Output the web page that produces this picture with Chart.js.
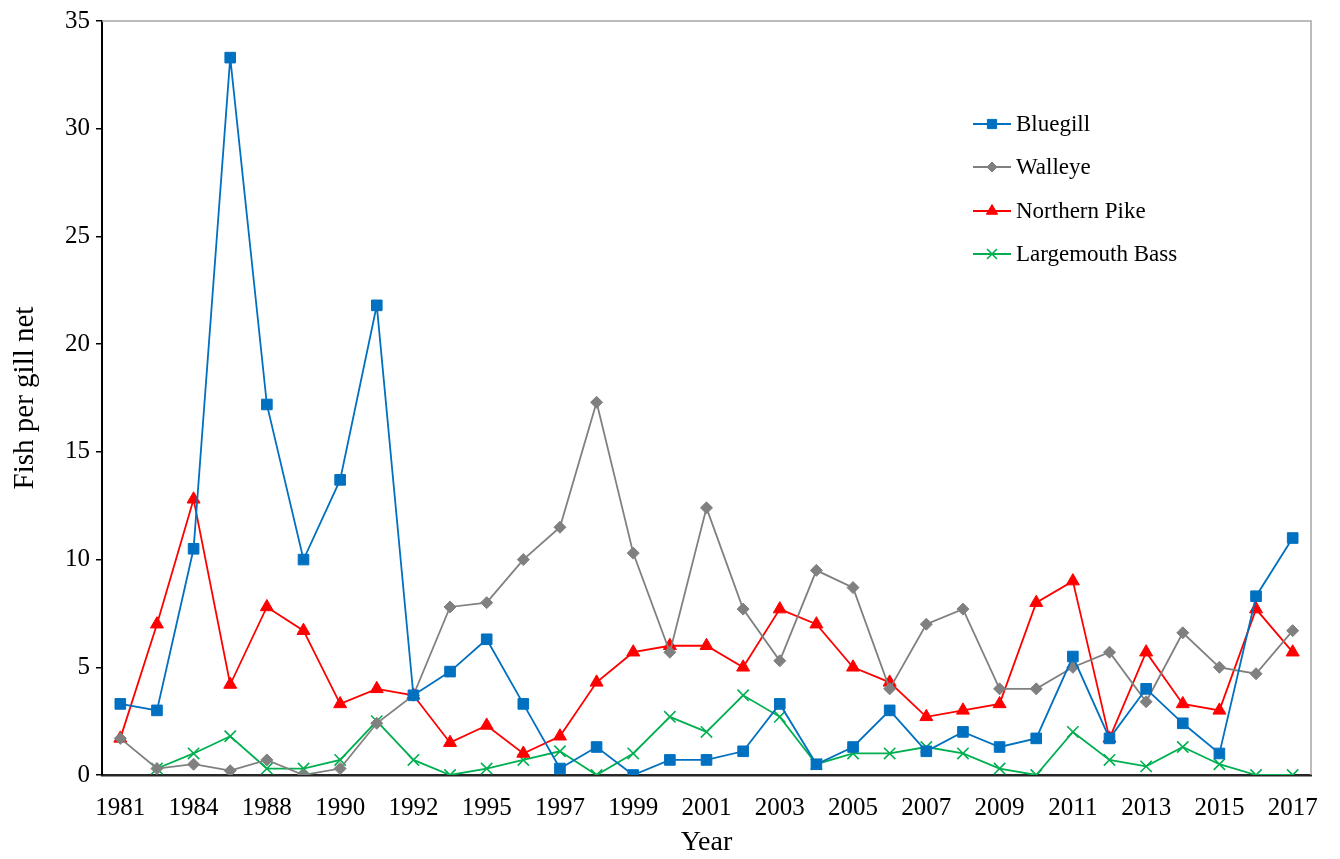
<!DOCTYPE html>
<html>
<head>
<meta charset="utf-8">
<title>Fish per gill net</title>
<script src="https://cdn.jsdelivr.net/npm/chart.js"></script>
<style>
  html, body { margin: 0; padding: 0; background: #fff; }
  #wrap { width: 1340px; height: 859px; position: relative; }
</style>
</head>
<body>
<div id="wrap"><canvas id="fishChart"></canvas></div>
<script>
const years = [
    1981, 1982, 1984, 1986, 1988, 1989, 1990, 1991, 1992, 1993, 1995,
    1996, 1997, 1998, 1999, 2000, 2001, 2002, 2003, 2004, 2005, 2006,
    2007, 2008, 2009, 2010, 2011, 2012, 2013, 2014, 2015, 2016, 2017,
];

const bluegill = [
    3.3, 3.0, 10.5, 33.3, 17.2, 10.0, 13.7, 21.8, 3.7, 4.8, 6.3,
    3.3, 0.3, 1.3, 0.0, 0.7, 0.7, 1.1, 3.3, 0.5, 1.3, 3.0,
    1.1, 2.0, 1.3, 1.7, 5.5, 1.7, 4.0, 2.4, 1.0, 8.3, 11.0,
];

const walleye = [
    1.7, 0.3, 0.5, 0.2, 0.7, 0.0, 0.3, 2.4, 3.7, 7.8, 8.0,
    10.0, 11.5, 17.3, 10.3, 5.7, 12.4, 7.7, 5.3, 9.5, 8.7, 4.0,
    7.0, 7.7, 4.0, 4.0, 5.0, 5.7, 3.4, 6.6, 5.0, 4.7, 6.7,
];

const northernPike = [
    1.7, 7.0, 12.8, 4.2, 7.8, 6.7, 3.3, 4.0, 3.7, 1.5, 2.3,
    1.0, 1.8, 4.3, 5.7, 6.0, 6.0, 5.0, 7.7, 7.0, 5.0, 4.3,
    2.7, 3.0, 3.3, 8.0, 9.0, 1.7, 5.7, 3.3, 3.0, 7.7, 5.7,
];

const largemouthBass = [
    null, 0.3, 1.0, 1.8, 0.3, 0.3, 0.7, 2.5, 0.7, 0.0, 0.3,
    0.7, 1.1, 0.0, 1.0, 2.7, 2.0, 3.7, 2.7, 0.5, 1.0, 1.0,
    1.3, 1.0, 0.3, 0.0, 2.0, 0.7, 0.4, 1.3, 0.5, 0.0, 0.0,
];

const yTicks = [0, 5, 10, 15, 20, 25, 30, 35];

const serif = "'Liberation Serif', 'Times New Roman', serif";

function series(label, values, color, style, radius) {
    return {
        label: label,
        data: values,
        borderColor: color,
        backgroundColor: color,
        borderWidth: 1.8,
        pointStyle: style,
        pointRadius: radius,
        pointBackgroundColor: color,
        pointBorderColor: color,
        pointBorderWidth: style === "crossRot" ? 1.6 : 1,
        tension: 0,
        spanGaps: false,
    };
}

// draws the top/right frame and the legend inside the plot
const framePlugin = {
    id: "frameAndLegend",
    afterDatasetsDraw(chart) {
        const ctx = chart.ctx;
        const area = chart.chartArea;
        ctx.save();
        ctx.strokeStyle = "#a6a6a6";
        ctx.lineWidth = 1.5;
        ctx.beginPath();
        ctx.moveTo(area.left, area.top);
        ctx.lineTo(area.right, area.top);
        ctx.lineTo(area.right, area.bottom);
        ctx.stroke();

        const x0 = 973, x1 = 1011, xm = 992, xt = 1016;
        const rows = [124, 167, 211, 254];
        chart.data.datasets.forEach((ds, i) => {
            const y = rows[i];
            ctx.strokeStyle = ds.borderColor;
            ctx.lineWidth = 1.8;
            ctx.beginPath();
            ctx.moveTo(x0, y);
            ctx.lineTo(x1, y);
            ctx.stroke();
            ctx.fillStyle = ds.pointBackgroundColor;
            ctx.strokeStyle = ds.pointBorderColor;
            ctx.lineWidth = ds.pointBorderWidth;
            Chart.helpers.drawPoint(ctx, {
                pointStyle: ds.pointStyle,
                radius: ds.pointRadius - 1,
                rotation: 0,
                borderWidth: ds.pointBorderWidth,
            }, xm, y);
            ctx.fillStyle = "#000";
            ctx.font = "23px " + serif;
            ctx.textBaseline = "middle";
            ctx.textAlign = "left";
            ctx.fillText(ds.label, xt, y + 1);
        });
        ctx.restore();
    },
};

const config = {
    type: "line",
    data: {
        labels: years.map(String),
        datasets: [
            series("Bluegill", bluegill, "#0070C0", "rect", 7.5),
            series("Walleye", walleye, "#808080", "rectRot", 6),
            series("Northern Pike", northernPike, "#FF0000", "triangle", 7.5),
            series("Largemouth Bass", largemouthBass, "#00B050", "crossRot", 8),
        ],
    },
    options: {
        responsive: true,
        maintainAspectRatio: false,
        animation: false,
        layout: { padding: { top: 19, right: 29, left: 0, bottom: 0 } },
        plugins: {
            legend: { display: false },
            tooltip: { enabled: false },
        },
        scales: {
            x: {
                type: "category",
                offset: true,
                grid: { display: false, drawTicks: false, tickLength: 0 },
                border: { display: true, color: "#262626", width: 2.5 },
                ticks: {
                    autoSkip: false,
                    maxRotation: 0,
                    padding: 18,
                    color: "#000",
                    font: { family: serif, size: 25 },
                    callback: function (value, index) {
                        return index % 2 === 0 ? this.getLabelForValue(value) : "";
                    },
                },
                title: {
                    display: true,
                    text: "Year",
                    color: "#000",
                    font: { family: serif, size: 28 },
                    padding: { top: 0, bottom: 0 },
                },
                afterFit(scale) { scale.height = 84; },
            },
            y: {
                min: 0,
                max: 35,
                afterBuildTicks(scale) {
                    scale.ticks = yTicks.map(v => ({ value: v }));
                },
                grid: {
                    display: true,
                    drawOnChartArea: false,
                    drawTicks: true,
                    tickLength: 6,
                    color: "#000",
                    lineWidth: 1.5,
                },
                border: { display: true, color: "#000", width: 2 },
                ticks: {
                    padding: 6,
                    color: "#000",
                    font: { family: serif, size: 25 },
                },
                title: {
                    display: true,
                    text: "Fish per gill net",
                    color: "#000",
                    font: { family: serif, size: 29 },
                    padding: { top: 8, bottom: 0 },
                },
                afterFit(scale) { scale.width = 102; },
            },
        },
    },
    plugins: [framePlugin],
};

new Chart(document.getElementById("fishChart"), config);
</script>
</body>
</html>
